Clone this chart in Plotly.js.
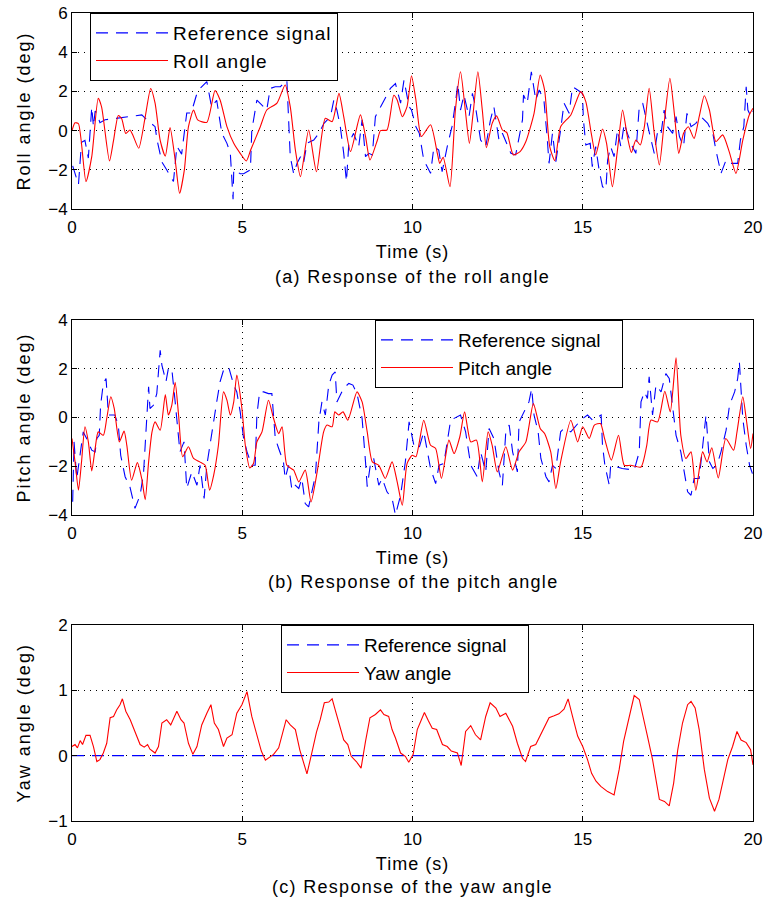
<!DOCTYPE html>
<html>
<head>
<meta charset="utf-8">
<script src="https://cdn.plot.ly/plotly-3.0.1.min.js"></script>
<style>
html,body{margin:0;padding:0;background:#fff;}
#chart{width:777px;height:907px;}
.legendtext{letter-spacing:1px;}
.xtitle,.x2title,.x3title{letter-spacing:1px;}
.ytitle,.y2title,.y3title{letter-spacing:2px;}
.annotation-text{letter-spacing:1.3px;}
</style>
</head>
<body>
<div id="chart"></div>
<script>
// ---------- Data ----------
const rollT = [
0,0.09,0.19,0.41,0.58,0.77,0.87,1.1,1.22,1.36,
1.46,1.58,1.7,1.78,1.96,2.15,2.31,2.44,2.59,2.74,
2.88,3.03,3.16,3.3,3.42,3.57,3.69,3.96,4.2,4.35,
4.55,4.75,4.94,5.12,5.25,5.53,5.72,6.02,6.26,6.41,
6.56,6.71,6.95,7.18,7.44,7.64,7.84,7.98,8.18,8.47,
8.62,8.75,8.97,9.06,9.25,9.45,9.55,9.7,9.84,9.97,
10.1,10.26,10.53,10.73,10.8,10.9,11.1,11.26,11.41,11.55,
11.67,11.78,11.92,12.05,12.17,12.34,12.47,12.64,12.77,12.96,
13.16,13.33,13.57,13.75,13.88,14.03,14.18,14.35,14.65,14.94,
15.09,15.25,15.38,15.58,15.7,15.87,16.02,16.17,16.31,16.43,
16.56,16.69,16.81,16.95,17.1,17.25,17.39,17.56,17.69,17.82,
17.96,18.1,18.27,18.42,18.57,18.72,18.91,19.11,19.3,19.5,
19.7,19.89,20];
const rollV = [
0,0.4,0.35,-2.6,-1.33,1.65,1.2,-1.55,-0.5,0.77,
0.6,-0.15,0.03,-0.2,-0.9,0.7,2.15,1.4,-0.5,-1.3,
0.15,-1.5,-3.2,-2.0,0.2,1.05,0.55,0.42,2.04,1.56,
0.2,-0.65,-1.16,-1.55,-0.98,0.2,1.05,1.4,2.33,1.22,
-0.99,-2.35,0.03,-2.1,0.63,0.46,1.9,0.71,-1.07,0.8,
-0.3,-1.5,-0.48,0,0.03,1.8,1.56,0.71,1.22,2.8,
1.56,-0.3,0.3,-1.16,-1.67,-1.36,-2.86,1.05,3.0,1.05,
-0.65,0.88,3.0,1.05,-0.87,0.37,0.75,0.03,-0.1,-1.24,
-1.07,-0.56,0.88,2.84,2.07,-0.82,-1.53,0.2,0.8,1.99,
1.48,-0.14,-1.24,0.08,-0.65,-2.86,-0.99,1.05,-0.3,-1.12,
-0.48,-0.73,0.2,2.16,-0.14,-1.75,0.37,2.67,0.88,-1.16,
-0.14,0.2,-0.4,0.71,1.78,1.05,-0.56,-0.22,-1.07,-2.18,
-0.48,0.8,1.14];

const refRollT = [
0.02,0.19,0.28,0.38,0.48,0.58,0.63,0.68,0.73,0.82,
0.97,1.2,1.6,2.05,2.2,2.44,2.5,2.64,2.78,2.98,
3.08,3.22,3.37,3.5,3.67,3.76,3.96,4.1,4.25,4.4,
4.55,4.65,4.73,4.75,4.94,5.04,5.24,5.28,5.43,5.53,
5.72,5.82,5.97,6.12,6.31,6.41,6.51,6.61,6.71,6.8,
6.9,7.1,7.25,7.4,7.59,7.69,7.78,7.88,7.98,8.06,
8.13,8.27,8.42,8.52,8.62,8.72,8.82,8.91,9.06,9.21,
9.35,9.5,9.65,9.75,9.9,9.97,10.1,10.2,10.29,10.33,
10.53,10.63,10.77,10.87,11.02,11.16,11.26,11.33,11.41,11.51,
11.66,11.76,11.85,12,12.15,12.29,12.39,12.54,12.64,12.89,
13.03,13.23,13.26,13.37,13.49,13.62,13.72,13.86,13.96,14.01,
14.11,14.21,14.35,14.45,14.6,14.7,14.85,14.99,15.02,15.09,
15.22,15.28,15.38,15.48,15.58,15.68,15.73,15.82,15.92,16.02,
16.12,16.22,16.31,16.46,16.56,16.66,16.76,16.86,16.96,17.1,
17.19,17.29,17.39,17.49,17.64,17.74,17.84,17.96,18.06,18.18,
18.32,18.47,18.67,18.82,18.91,19.06,19.21,19.35,19.55,19.63,
19.73,19.8,19.85,19.94,20];
const refRollV = [
-1.8,-2.75,-0.6,-0.5,-1.4,1.2,0.2,1.0,0.9,0.4,
0.55,0.6,0.7,0.8,0.55,0.2,-0.5,-1.6,-2.0,-2.6,
-0.8,-1.2,0.9,0.9,1.9,2.15,2.5,1.2,1.55,-0.14,
-0.65,-1.16,-3.5,-2.0,-2.2,-2.2,-2.0,0,1.56,1.4,
1.05,2.15,2.24,2.24,2.58,-1.33,-2.2,-1.67,-1.33,-1.67,
-0.65,-0.48,-0.14,0.37,0.71,1.56,1.05,0.2,-1.16,-2.6,
-0.65,-0.14,-0.82,0.55,-1.33,-1.16,-1.24,0.71,1.22,1.73,
2.15,2.4,1.4,2.58,1.22,1.05,0.2,-0.14,-1.16,-1.5,
-2.18,-0.82,-0.99,-2.1,-0.82,0.2,1.4,2.4,1.05,1.82,
0.71,1.9,1.22,-0.48,-0.82,0.55,1.22,-0.48,-0.14,-1.16,
-1.24,0.55,1.82,1.4,3.0,1.56,2.07,1.56,-0.48,-1.67,
-0.14,-1.58,0.03,1.4,0.88,2.24,2.07,1.9,0.55,-0.73,
-0.65,-1.84,-0.82,-2.0,-2.86,-3.0,-1.5,-0.82,-1.33,0.03,
-0.82,0.37,-0.14,-0.82,-1.16,1.22,1.4,0.55,-0.14,-1.16,
-0.14,-0.3,1.05,0.2,-0.14,0.71,-0.3,-0.82,0.88,0.2,
0.37,0.71,0.37,-0.14,-0.99,-2.18,-1.5,-1.67,-1.67,-0.48,
0.2,2.24,1.05,0.71,1.0];

const pitchT = [
0,0.09,0.19,0.28,0.38,0.48,0.58,0.68,0.77,0.92,
1.02,1.14,1.24,1.39,1.53,1.61,1.75,1.92,2.05,2.15,
2.25,2.35,2.44,2.59,2.74,2.83,2.93,3.03,3.13,3.25,
3.42,3.57,3.75,3.91,4.04,4.16,4.3,4.45,4.55,4.65,
4.75,4.84,4.99,5.09,5.22,5.33,5.43,5.58,5.77,5.92,
6.07,6.17,6.31,6.51,6.66,6.85,7.02,7.2,7.39,7.49,
7.64,7.72,7.83,7.96,8.1,8.37,8.52,8.67,8.82,9.01,
9.2,9.4,9.55,9.7,9.84,9.99,10.1,10.33,10.53,10.68,
10.85,11.07,11.22,11.39,11.53,11.71,11.88,12.05,12.22,12.34,
12.49,12.74,12.94,13.13,13.33,13.55,13.75,13.88,14.06,14.21,
14.35,14.65,14.85,15.0,15.19,15.34,15.52,15.64,15.84,16.05,
16.22,16.41,16.71,16.88,17.0,17.2,17.41,17.57,17.74,17.88,
18.03,18.18,18.32,18.52,18.65,18.79,18.98,19.2,19.43,19.53,
19.7,19.8,19.93,20];
const pitchV = [
-0.86,-1.82,-2.98,-1.82,-0.38,-1.0,-2.19,-1.27,-0.59,-0.73,
-0.04,0.85,0.37,-1.0,-0.56,-1.14,-2.57,-1.85,-2.52,-3.37,
-1.82,-0.59,-0.18,-0.52,0.94,0.1,0.5,1.44,0.1,-1.61,
-1.2,-1.68,-1.82,-1.96,-2.98,-2.37,-1.14,1.05,0.71,0.1,
0.64,1.74,0.37,-1.14,-2.07,-1.89,-1.0,-0.59,0.71,-0.04,
-0.66,-0.38,-1.96,-2.16,-2.64,-2.16,-3.46,-2.23,-0.59,-0.31,
-0.38,0.23,0.1,0.23,-0.11,1.05,0.64,-0.59,-1.82,-1.96,
-2.5,-1.82,-2.64,-3.6,-1.89,-1.55,-1.61,-0.11,-1.14,-1.27,
-2.5,-0.93,-1.48,-0.79,0.23,-1.0,-0.93,-2.64,-0.59,-1.14,
-2.23,-1.2,-2.16,-1.41,-1.0,0.57,-0.45,-0.66,-1.41,-2.91,
-1.82,-0.11,-1.0,-0.38,-0.86,-0.31,-0.25,-0.86,-1.75,-0.73,
-1.96,-1.96,-2.03,-1.14,-0.11,-0.18,1.08,0.23,2.45,-0.73,
-1.68,-1.41,-2.98,-1.41,-1.82,-1.24,-2.48,-0.86,-1.34,-0.59,
0.85,-0.04,-1.27,-0.66];

const refPitchT = [
0.02,0.06,0.14,0.24,0.33,0.43,0.58,0.68,0.73,0.8,
0.84,0.92,1.0,1.07,1.26,1.36,1.43,1.56,1.7,1.85,
2.0,2.1,2.25,2.29,2.39,2.49,2.59,2.64,2.76,2.83,
2.93,3.03,3.17,3.29,3.37,3.52,3.67,3.76,3.88,3.96,
4.11,4.17,4.25,4.35,4.45,4.6,4.75,4.84,4.94,5.04,
5.14,5.28,5.38,5.43,5.51,5.63,5.77,5.87,5.97,6.07,
6.21,6.26,6.36,6.46,6.56,6.66,6.75,6.85,6.95,7.15,
7.25,7.34,7.44,7.54,7.64,7.73,7.78,7.88,7.98,8.13,
8.25,8.37,8.52,8.62,8.67,8.76,8.86,9.01,9.11,9.25,
9.4,9.5,9.65,9.79,9.9,10.04,10.19,10.33,10.53,10.68,
10.78,10.92,11.12,11.41,11.56,11.71,11.9,12.0,12.15,12.25,
12.39,12.54,12.64,12.74,12.84,12.94,13.08,13.13,13.32,13.42,
13.5,13.57,13.69,13.77,13.92,14.01,14.11,14.21,14.35,14.45,
14.65,14.94,15.14,15.29,15.54,15.58,15.65,15.78,15.82,16.16,
16.51,16.66,16.71,16.81,16.9,16.95,17.05,17.15,17.3,17.44,
17.54,17.64,17.74,17.88,17.98,18.08,18.18,18.27,18.42,18.57,
18.62,18.72,18.82,18.94,19.06,19.21,19.31,19.46,19.55,19.6,
19.7,19.8,19.9,20];
const refPitchV = [
-3.46,-1.0,-2.5,-1.41,-0.59,-0.86,-1.34,-1.41,-0.86,-0.73,
0.5,1.4,1.6,0.1,0.1,-0.31,-1.55,-2.43,-2.84,-3.73,
-3.19,-2.3,1.26,0.37,0.5,0.98,2.76,2.15,1.47,2.01,
2.01,0.64,-1.41,-1.0,-2.91,-2.23,-2.78,-1.96,-3.32,-1.96,
-0.59,0.1,0.64,1.47,1.94,2.08,1.33,1.05,0.23,-0.86,
-1.41,-1.96,-1.96,0.1,1.05,1.05,0.98,0.98,-0.86,-1.27,
-1.82,-2.5,-1.96,-2.98,-2.78,-2.91,-2.5,-3.53,-3.67,-2.37,
-0.18,0.64,0.1,1.33,1.74,1.87,0.64,0.92,1.2,1.4,
1.33,0.98,-0.04,-1.82,-2.84,-1.96,-1.68,-2.78,-2.5,-3.05,
-3.32,-4.0,-3.19,-1.82,-0.18,-1.14,-1.27,-0.59,-2.09,-2.71,
-1.96,-1.89,-0.11,0.1,-0.59,-1.96,-2.43,-1.41,-2.23,-0.45,
-0.86,-2.23,-2.78,-0.59,-0.31,-1.41,-2.23,-0.18,0.37,0.64,
1.19,0.1,-0.59,-1.68,-2.43,-2.64,-1.96,-2.09,-0.59,-0.45,
-0.59,-0.11,0.1,-0.11,0.1,-1.14,-1.96,-2.78,-1.96,-2.09,
-2.16,-1.41,0.64,1.05,0.78,1.67,0.1,1.33,1.05,1.8,
1.6,0.37,-0.73,-1.41,-2.23,-3.05,-3.19,-2.5,-2.5,-0.59,
0.1,-1.82,-2.09,-1.96,-1.41,-0.52,0.5,1.05,1.6,2.28,
-0.04,-1.14,-1.96,-2.37];

const yawT = [
0,0.09,0.16,0.24,0.31,0.41,0.53,0.63,0.73,0.82,
0.92,1.02,1.12,1.22,1.31,1.41,1.48,1.58,1.71,1.8,
1.9,2.0,2.12,2.22,2.29,2.44,2.54,2.64,2.78,2.9,
3.08,3.2,3.29,3.42,3.55,3.67,3.81,3.96,4.08,4.18,
4.3,4.45,4.55,4.7,4.84,4.99,5.14,5.28,5.43,5.56,
5.68,5.77,5.92,6.07,6.17,6.29,6.41,6.56,6.69,6.8,
6.9,7.02,7.18,7.29,7.41,7.54,7.64,7.73,7.86,7.98,
8.1,8.2,8.35,8.49,8.62,8.75,8.91,9.06,9.16,9.3,
9.4,9.5,9.65,9.79,9.89,10.02,10.14,10.35,10.47,10.58,
10.71,10.88,11.02,11.14,11.32,11.43,11.56,11.71,11.85,12.0,
12.15,12.28,12.45,12.57,12.74,12.94,13.08,13.23,13.32,13.47,
13.62,13.87,14.01,14.16,14.3,14.45,14.57,14.7,14.85,15.0,
15.14,15.26,15.39,15.53,15.73,15.92,16.07,16.2,16.36,16.51,
16.66,16.79,16.9,17.05,17.15,17.25,17.4,17.54,17.67,17.79,
17.93,18.08,18.18,18.3,18.42,18.57,18.72,18.87,19.0,19.11,
19.26,19.4,19.53,19.65,19.8,19.93,20];
const yawV = [
0.14,0.17,0.12,0.23,0.17,0.31,0.31,0.14,-0.09,-0.06,
0.04,0.19,0.58,0.6,0.7,0.78,0.87,0.68,0.55,0.42,
0.3,0.17,0.13,0.17,0.1,0.04,0.14,0.5,0.55,0.47,
0.68,0.55,0.5,0.19,0.02,0.14,0.47,0.65,0.78,0.5,
0.4,0.14,0.27,0.32,0.65,0.78,0.98,0.6,0.3,0.07,
-0.07,-0.04,0.02,0.12,0.32,0.55,0.47,0.4,0.09,-0.11,
-0.28,-0.01,0.36,0.55,0.81,0.82,0.87,0.7,0.44,0.24,
0.17,-0.01,-0.09,-0.19,0.22,0.58,0.63,0.7,0.63,0.6,
0.4,0.27,0.04,-0.01,-0.1,0.02,0.4,0.66,0.53,0.42,
0.4,0.17,0.14,0.07,0.04,-0.15,0.37,0.46,0.32,0.24,
0.6,0.81,0.73,0.6,0.65,0.45,0.19,-0.04,-0.09,0.14,
0.17,0.42,0.58,0.61,0.64,0.71,0.87,0.6,0.3,0.14,
-0.06,-0.27,-0.39,-0.47,-0.55,-0.6,-0.21,0.22,0.6,0.92,
0.86,0.53,0.3,-0.06,-0.37,-0.67,-0.7,-0.77,-0.42,0.09,
0.5,0.78,0.83,0.73,0.4,-0.21,-0.65,-0.85,-0.67,-0.42,
-0.06,0.14,0.37,0.24,0.2,0.09,-0.14];

const refYawT = [0, 20];
const refYawV = [0, 0];

const xTicks = [0, 5, 10, 15, 20];
const rollTicks = [-4, -2, 0, 2, 4, 6];
const pitchTicks = [-4, -2, 0, 2, 4];
const yawTicks = [-1, 0, 1, 2];
const captions = ['(a) Response of the roll angle', '(b) Response of the pitch angle', '(c) Response of the yaw angle'];

// ---------- Styling ----------
const FONT = 'Liberation Sans, Arial, Helvetica, sans-serif';
const BLUE = '#0000ff', RED = '#ff0000';
const refLine = {color: BLUE, width: 1.1, dash: '12px,8px'};
const respLine = {color: RED, width: 1.1};

const traces = [
  {x: refRollT, y: refRollV, xaxis: 'x', yaxis: 'y', name: 'Reference signal', mode: 'lines', line: refLine, legend: 'legend'},
  {x: rollT, y: rollV, xaxis: 'x', yaxis: 'y', name: 'Roll angle', mode: 'lines', line: Object.assign({shape: 'spline', smoothing: 0.6}, respLine), legend: 'legend'},
  {x: refPitchT, y: refPitchV, xaxis: 'x2', yaxis: 'y2', name: 'Reference signal', mode: 'lines', line: refLine, legend: 'legend2'},
  {x: pitchT, y: pitchV, xaxis: 'x2', yaxis: 'y2', name: 'Pitch angle', mode: 'lines', line: Object.assign({shape: 'spline', smoothing: 0.6}, respLine), legend: 'legend2'},
  {x: refYawT, y: refYawV, xaxis: 'x3', yaxis: 'y3', name: 'Reference signal', mode: 'lines', line: refLine, legend: 'legend3'},
  {x: yawT, y: yawV, xaxis: 'x3', yaxis: 'y3', name: 'Yaw angle', mode: 'lines', line: respLine, legend: 'legend3'}
];

function xAxis(anchor) {
  return {
    anchor: anchor, domain: [0, 1], range: [0, 20], tickvals: xTicks,
    showgrid: true, gridcolor: '#000', griddash: '1px,5px', gridwidth: 1,
    zeroline: false, showline: true, linecolor: '#000', linewidth: 1, mirror: 'ticks',
    ticks: 'inside', ticklen: 5, tickcolor: '#000', ticklabelstandoff: 3,
    tickfont: {family: FONT, size: 17, color: '#000'},
    title: {text: 'Time (s)', font: {family: FONT, size: 18, color: '#000'}, standoff: 8}
  };
}
function yAxis(anchor, dom, range, ticks, title) {
  return {
    anchor: anchor, domain: dom, range: range, tickvals: ticks,
    showgrid: true, gridcolor: '#000', griddash: '1px,5px', gridwidth: 1,
    zeroline: false, showline: true, linecolor: '#000', linewidth: 1, mirror: 'ticks',
    ticks: 'inside', ticklen: 5, tickcolor: '#000',
    tickfont: {family: FONT, size: 17, color: '#000'},
    title: {text: title, font: {family: FONT, size: 18, color: '#000'}, standoff: 12}
  };
}
function legendBox(x, y) {
  return {
    x: x, y: y, xanchor: 'left', yanchor: 'top', xref: 'paper', yref: 'paper',
    bgcolor: '#fff', bordercolor: '#000', borderwidth: 1,
    font: {family: FONT, size: 19, color: '#000'},
    itemwidth: 72, tracegroupgap: 0
  };
}

const H = 907;
const py = p => 1 - p / H;
const capFont = {family: FONT, size: 18, color: '#000'};

const layout = {
  width: 777, height: 907,
  margin: {l: 72, r: 24, t: 0, b: 0},
  paper_bgcolor: '#fff', plot_bgcolor: '#fff',
  font: {family: FONT, size: 17, color: '#000'},
  showlegend: true,
  xaxis: xAxis('y'),
  yaxis: yAxis('x', [py(209), py(13)], [-4, 6], rollTicks, 'Roll angle (deg)'),
  xaxis2: xAxis('y2'),
  yaxis2: yAxis('x2', [py(515), py(320)], [-4, 4], pitchTicks, 'Pitch angle (deg)'),
  xaxis3: xAxis('y3'),
  yaxis3: yAxis('x3', [py(821), py(625)], [-1, 2], yawTicks, 'Yaw angle (deg)'),
  legend: legendBox((90 - 72) / 681, py(13)),
  legend2: legendBox((375 - 72) / 681, py(320)),
  legend3: legendBox((281 - 72) / 681, py(625)),
  annotations: [
    {text: captions[0], xref: 'paper', yref: 'paper', x: 0.5, y: py(277), yanchor: 'middle', showarrow: false, font: capFont},
    {text: captions[1], xref: 'paper', yref: 'paper', x: 0.5, y: py(582), yanchor: 'middle', showarrow: false, font: capFont},
    {text: captions[2], xref: 'paper', yref: 'paper', x: 0.5, y: py(887), yanchor: 'middle', showarrow: false, font: capFont}
  ]
};

Plotly.newPlot('chart', traces, layout, {displayModeBar: false, staticPlot: true});
</script>
</body>
</html>
